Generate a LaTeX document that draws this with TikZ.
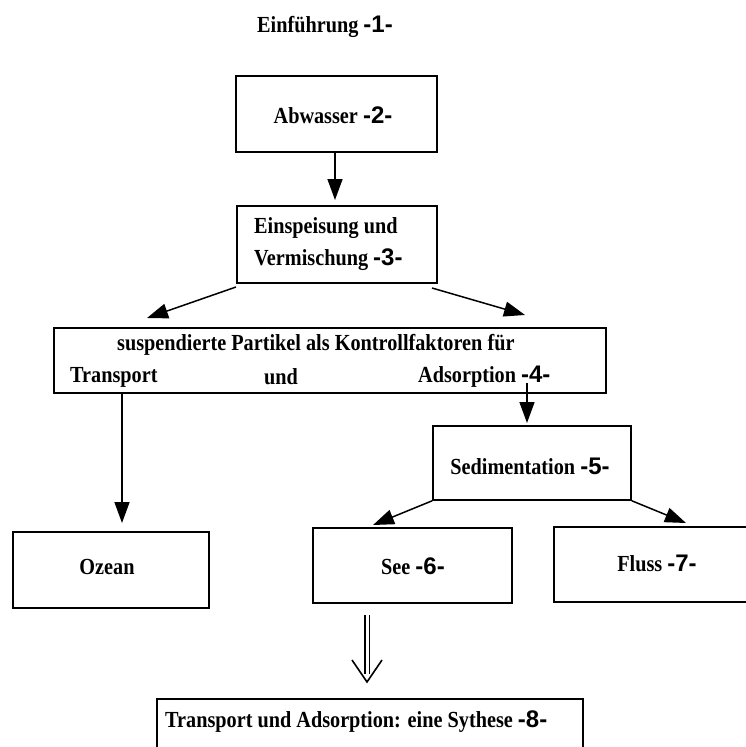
\documentclass[tikz,border=0pt]{standalone}
\usepackage{fontspec}
\setmainfont{Liberation Serif}[FakeStretch=0.88]
\newfontfamily\numfont{Liberation Sans}
\usetikzlibrary{arrows.meta}
\newcommand{\nr}[1]{{\numfont\bfseries\fontsize{24}{24}\selectfont -#1-}}
\tikzset{
  box/.style={draw, line width=1.5pt, inner sep=0pt},
  txt/.style={font=\bfseries\fontsize{23}{23}\selectfont, inner sep=0pt},
  arr/.style={line width=1.5pt, -{Triangle[length=21pt,width=15pt]}},
}
\begin{document}
\begin{tikzpicture}[x=1pt,y=-1pt]
\useasboundingbox (0,0) rectangle (745,747);
\fill[white] (0,0) rectangle (745,747);
% title
\node[txt] (t1) at (325,27) {Einführung \nr{1}};
% boxes
\node[box, minimum width=201pt, minimum height=76pt] (b2) at (336.5,114) {};
\node[txt] (t2) at (333,115) {Abwasser \nr{2}};
\node[box, minimum width=200pt, minimum height=77pt] (b3) at (337,244.5) {};
\node[txt, anchor=west] (t3a) at (254,228) {Einspeisung und};
\node[txt, anchor=west] (t3b) at (254,260) {Vermischung \nr{3}};
\node[box, minimum width=552pt, minimum height=65pt] (b4) at (330,360.5) {};
\node[txt, anchor=west] (t4a) at (117,345) {suspendierte Partikel als Kontrollfaktoren für};
\node[txt, anchor=west] (t4b) at (70,377) {Transport};
\node[txt, anchor=west] (t4c) at (264,377) {und};
\node[txt, anchor=west] (t4d) at (418,377) {Adsorption \nr{4}};
\node[box, minimum width=198pt, minimum height=74pt] (b5) at (532,463) {};
\node[txt] (t5) at (530,466) {Sedimentation \nr{5}};
\node[box, minimum width=196pt, minimum height=76pt] (oz) at (111,570) {};
\node[txt] (toz) at (107,567) {Ozean};
\node[box, minimum width=199pt, minimum height=75pt] (b6) at (412.5,565.5) {};
\node[txt] (t6) at (413,566) {See \nr{6}};
\node[box, minimum width=206pt, minimum height=75pt] (b7) at (657,564.5) {};
\node[txt] (t7) at (657,563) {Fluss \nr{7}};
\node[box, minimum width=426pt, minimum height=70pt] (b8) at (370,734) {};
\node[txt, anchor=west] (t8) at (165,722) {Transport und Adsorption: eine Sythese \nr{8}};
% connectors
\coordinate (a2) at (335,152);
\coordinate (a3) at (335,200);
\draw[arr] (b2.south -| a2) -- (a3);
\coordinate (l3) at (236,287);
\coordinate (l4) at (147,318);
\draw[arr] (l3) -- (l4);
\coordinate (r3) at (432,288);
\coordinate (r4) at (525,315);
\draw[arr] (r3) -- (r4);
\coordinate (oztip) at (122,523);
\draw[arr] (b4.south -| oztip) -- (oztip);
\coordinate (s4) at (527,383);
\coordinate (s5) at (527,423);
\draw[arr] (s4) -- (s5);
\coordinate (l6) at (373,525);
\draw[arr] (b5.south west) -- (l6);
\coordinate (r7) at (686,523);
\draw[arr] (b5.south east) -- (r7);
% double arrow
\coordinate (d1) at (367,615);
\coordinate (d2) at (367,682);
\draw[line width=1.4pt] ([xshift=-2.2pt]d1) -- ([xshift=-2.2pt,yshift=8pt]d2)
      ([xshift=2.2pt]d1) -- ([xshift=2.2pt,yshift=8pt]d2);
\draw[line width=1.6pt] ([xshift=-15pt,yshift=22pt]d2) -- (d2) -- ([xshift=15pt,yshift=22pt]d2);
\end{tikzpicture}
\end{document}
